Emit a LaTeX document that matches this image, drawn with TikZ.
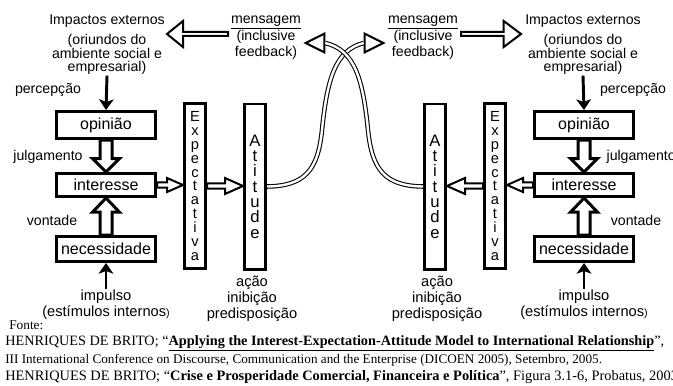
\documentclass[tikz,border=0pt]{standalone}
\usepackage{fontspec}
\setmainfont{Liberation Sans}
\newfontfamily\citefont{Liberation Serif}
\usetikzlibrary{calc,arrows.meta,shapes.geometric}

\tikzset{
	lbl/.style={inner sep=1pt, font=\fontsize{10.6}{12}\selectfont},
	box/.style={draw, line width=2.25pt, minimum width=74.25pt, inner sep=0pt, font=\fontsize{12}{12}\selectfont},
	tall/.style={draw, line width=1.9pt, minimum width=16.1pt, minimum height=124.1pt, inner sep=0pt, align=center},
	hollow/.style={draw, fill=white, line width=1.5pt, miter limit=10},
	blk/.style={line width=2.2pt, -{Stealth[length=8pt,width=11pt,inset=2pt]}},
	feed/.style={draw, line width=0.8pt, double=white, double distance=1.8pt},
	fbtri/.style={draw, fill=white, isosceles triangle, isosceles triangle stretches, minimum width=14pt, minimum height=14pt, inner sep=0pt, line width=1.5pt},
	cite/.style={anchor=base west, inner sep=0pt}
}

% hollow block arrow: [opts]{from}{to}{shaft half width}{head half width}{head length}
\newcommand{\hollowarrow}[6][]{%
	\path (#2) coordinate (ha-s) (#3) coordinate (ha-t) ($(ha-t)!#6!(ha-s)$) coordinate (ha-h);
	\draw[hollow,#1] ($(ha-s)!#4!90:(ha-t)$) -- ($(ha-h)!#4!-90:(ha-s)$)
		-- ($(ha-h)!#5!-90:(ha-s)$) -- (ha-t) -- ($(ha-h)!#5!90:(ha-s)$)
		-- ($(ha-h)!#4!90:(ha-s)$) -- ($(ha-s)!#4!-90:(ha-t)$) -- cycle;
}

\begin{document}
\begin{tikzpicture}[x=0.75pt,y=-0.75pt]
		\useasboundingbox (0,0) rectangle (673,385);

		% left side
		\node[lbl] (impL) at (107,21) {Impactos externos};
		\node[lbl, align=center, font=\fontsize{10.6}{9.2}\selectfont] (origL) at (107,54) {(oriundos do\\ambiente social e\\empresarial)};
		\node[lbl, align=center, font=\fontsize{10.6}{12.4}\selectfont] (msgL) at (266,38) {\underline{mensagem}\\(inclusive\\feedback)};
		\node[lbl] (percL) at (48,90) {percepção};
		\node[lbl] (julgL) at (48,157) {julgamento};
		\node[lbl] (vontL) at (52,220) {vontade};
		\node[lbl, align=center, font=\fontsize{11}{12}\selectfont] (impuL) at (106,305) {impulso\\(estímulos internos{\fontsize{8}{8}\selectfont)}};
		\node[lbl, align=center, font=\fontsize{11}{12}\selectfont] (acaoL) at (252,299) {ação\\inibição\\predisposição};

		\node[box, minimum height=20.25pt] (opL) at (106,125) {opinião};
		\node[box, minimum height=17.25pt] (inL) at (106,185) {interesse};
		\node[box, minimum height=18.75pt] (neL) at (106,249) {necessidade};
		\node[tall, font=\fontsize{11}{10.4}\selectfont] (exL) at (195,186) {E\\x\\p\\e\\c\\t\\a\\t\\i\\v\\a};
		\node[tall, font=\fontsize{12.5}{11.5}\selectfont] (atL) at (255,186.5) {A\\t\\i\\t\\u\\d\\e};

		% right side
		\node[lbl] (impR) at (583,21) {Impactos externos};
		\node[lbl, align=center, font=\fontsize{10.6}{9.2}\selectfont] (origR) at (583,54) {(oriundos do\\ambiente social e\\empresarial)};
		\node[lbl, align=center, font=\fontsize{10.6}{12.4}\selectfont] (msgR) at (423,38) {\underline{mensagem}\\(inclusive\\feedback)};
		\node[lbl] (percR) at (633,90) {percepção};
		\node[lbl, anchor=west] (julgR) at (605,157) {julgamento};
		\node[lbl] (vontR) at (636,220) {vontade};
		\node[lbl, align=center, font=\fontsize{11}{12}\selectfont] (impuR) at (584,305) {impulso\\(estímulos internos{\fontsize{8}{8}\selectfont)}};
		\node[lbl, align=center, font=\fontsize{11}{12}\selectfont] (acaoR) at (437,299) {ação\\inibição\\predisposição};

		\node[box, minimum height=20.25pt] (opR) at (584,125) {opinião};
		\node[box, minimum height=17.25pt] (inR) at (584,185) {interesse};
		\node[box, minimum height=18.75pt] (neR) at (584,249) {necessidade};
		\node[tall, font=\fontsize{11}{10.4}\selectfont] (exR) at (495,186) {E\\x\\p\\e\\c\\t\\a\\t\\i\\v\\a};
		\node[tall, font=\fontsize{12.5}{11.5}\selectfont] (atR) at (435,186.5) {A\\t\\i\\t\\u\\d\\e};

		% feedback triangles
		\node[fbtri, shape border rotate=180, anchor=apex] (fbL) at (303,43) {};
		\node[fbtri, anchor=apex] (fbR) at (386,43) {};

		\coordinate (mL) at (228,34);
		\coordinate (tL) at (167,34);
		\coordinate (mR) at (461,34);
		\coordinate (tR) at (521,34);

		% source
		\node[cite, font=\citefont\fontsize{10}{12}\selectfont] (fonte) at (9,329) {Fonte:};
		\node[cite, font=\citefont\fontsize{10.7}{12}\selectfont] (ref1) at (5,345)
			{HENRIQUES DE BRITO; “\underline{\textbf{Applying the Interest-Expectation-Attitude Model to International Relationship}}”,};
		\node[cite, font=\citefont\fontsize{9.9}{12}\selectfont] (ref2) at (5,363)
			{III International Conference on Discourse, Communication and the Enterprise (DICOEN 2005), Setembro, 2005.};
		\node[cite, font=\citefont\fontsize{10.8}{12}\selectfont] (ref3) at (5,380)
			{HENRIQUES DE BRITO; “\textbf{Crise e Prosperidade Comercial, Financeira e Política}”, Figura 3.1-6, Probatus, 2003};

		% connectors
		\draw[blk] (origL.south) -- (opL.north);
		\draw[blk] (impuL.north) -- (neL.south);
		\draw[blk] (origR.south) -- (opR.north);
		\draw[blk] (impuR.north) -- (neR.south);

		\hollowarrow{mL}{tL}{1.5pt}{9.75pt}{12pt}
		\hollowarrow{mR}{tR}{1.5pt}{9.75pt}{13pt}

		\hollowarrow[line width=2.25pt]{opL.south}{inL.north}{4.5pt}{10pt}{10pt}
		\hollowarrow[line width=2.25pt]{neL.north}{inL.south}{4.5pt}{10pt}{10.5pt}
		\hollowarrow{inL.east}{inL.east -| exL.west}{1.9pt}{5.25pt}{12pt}
		\hollowarrow{exL.east}{exL.east -| atL.west}{1.9pt}{6pt}{13.5pt}

		\hollowarrow[line width=2.25pt]{opR.south}{inR.north}{4.5pt}{10pt}{10pt}
		\hollowarrow[line width=2.25pt]{neR.north}{inR.south}{4.5pt}{10pt}{10.5pt}
		\hollowarrow{inR.west}{inR.west -| exR.east}{1.9pt}{5.25pt}{12pt}
		\hollowarrow{exR.west}{exR.west -| atR.east}{1.9pt}{6pt}{13.5pt}

		\draw[feed] (atL.east) .. controls (305,186) and (318,170) .. (322,130) .. controls (327,80) and (335,50) .. (fbR.lower side);
		\draw[feed] (atR.west) .. controls (385,186) and (372,170) .. (368,130) .. controls (363,80) and (355,50) .. (fbL.lower side);
\end{tikzpicture}
\end{document}
